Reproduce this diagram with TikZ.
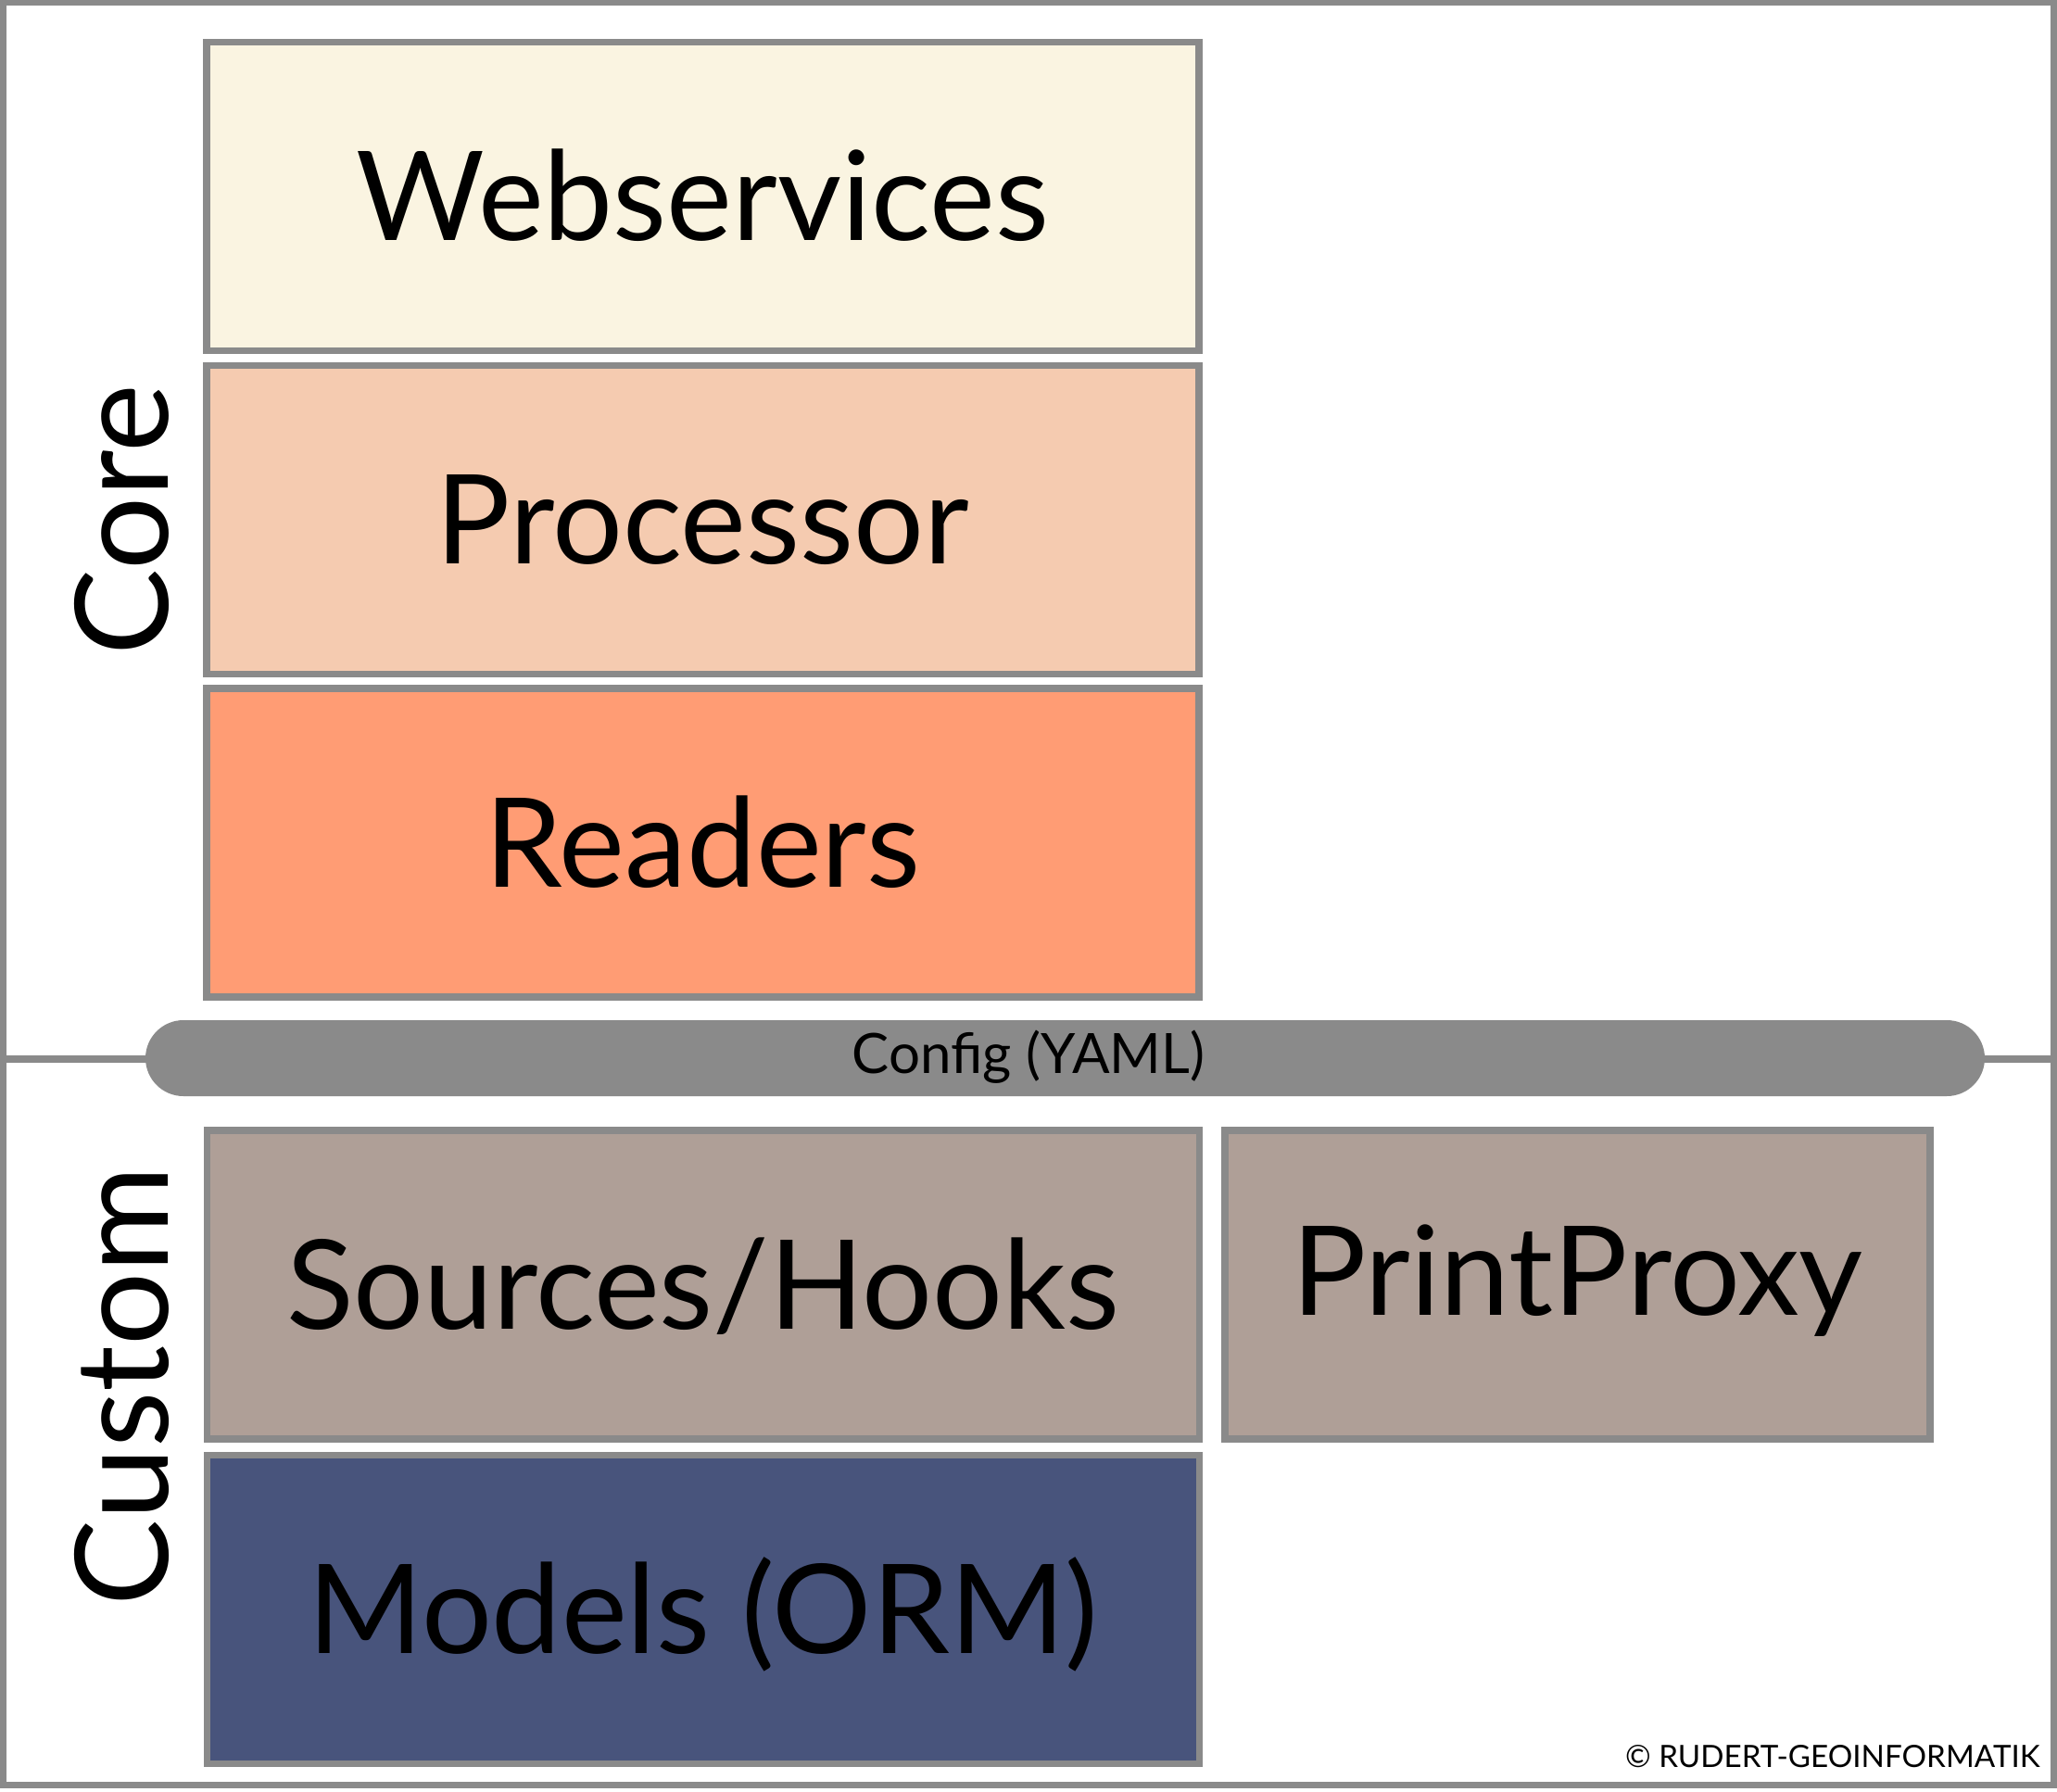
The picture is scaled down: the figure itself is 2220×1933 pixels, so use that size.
\documentclass[tikz,border=0pt]{standalone}
\usepackage{fontspec}
\setmainfont{Lato}
\definecolor{lineGray}{HTML}{8A8A8A}
\definecolor{cream}{HTML}{FAF4E1}
\definecolor{peach}{HTML}{F5CBB0}
\definecolor{salmon}{HTML}{FF9C74}
\definecolor{taupe}{HTML}{AF9F97}
\definecolor{navy}{HTML}{48547C}
\tikzset{
  layerbox/.style={draw=lineGray, line width=3.75pt, rectangle, inner sep=0pt,
    minimum width=535.5pt, minimum height=166.5pt,
    font=\fontsize{67pt}{70pt}\selectfont, text height=47.5pt, text depth=0pt},
  sidelabel/.style={rotate=90, anchor=base, inner sep=0pt,
    font=\fontsize{69.8pt}{72pt}\selectfont}
}
\begin{document}
\begin{tikzpicture}[x=0.5pt,y=-0.5pt]
\useasboundingbox (0,0) rectangle (2220,1933);
% frame
\draw[lineGray, line width=3.5pt] (3.5,2) rectangle (2216.5,1926.5);
\coordinate (divL) at (3.5,1143);
\coordinate (divR) at (2216.5,1143);
\draw[lineGray, line width=4pt] (divL) -- (divR);
% config bar
\node[fill=lineGray, rounded corners=20.5pt, minimum width=992.5pt, minimum height=41pt,
  inner sep=0pt] (config) at (1149.5,1142) {};
\node[anchor=base, inner sep=0pt, font=\fontsize{30pt}{32pt}\selectfont]
  (configtext) at (1110,1158) {Config (YAML)};
% core
\node[layerbox, fill=cream] (web) at (758.5,211.75) {Webservices};
\node[layerbox, fill=peach] (proc) at (758.5,561) {Processor};
\node[layerbox, fill=salmon] (read) at (758.5,909.5) {Readers};
% custom
\node[layerbox, fill=taupe] (src) at (758.75,1386.5) {Sources/Hooks};
\node[layerbox, fill=taupe, minimum width=380.5pt, text depth=15pt] (pp) at (1702.5,1386.5) {PrintProxy};
\node[layerbox, fill=navy] (models) at (758.75,1737) {Models (ORM)};
% side labels
\node[sidelabel] (core) at (181,561) {Core};
\node[sidelabel] (custom) at (181,1496) {Custom};
% copyright
\node[anchor=base east, inner sep=0pt, font=\fontsize{16.6pt}{18pt}\selectfont] (copy) at (2202,1907) {© RUDERT-GEOINFORMATIK};
\end{tikzpicture}
\end{document}
